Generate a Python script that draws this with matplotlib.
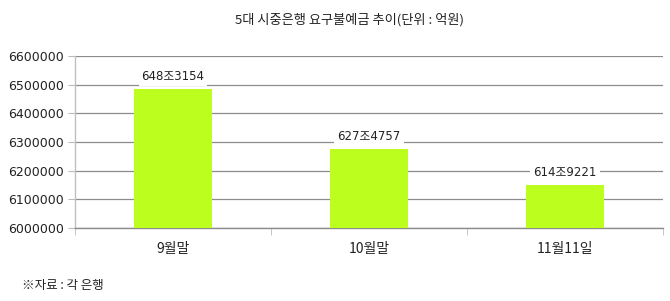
import matplotlib
matplotlib.use("Agg")
import matplotlib.pyplot as plt
from matplotlib.ticker import FixedLocator

plt.rcParams['font.family'] = ['DejaVu Sans', 'Noto Sans CJK KR']

categories = ['9월말', '10월말', '11월11일']
values = [6483154, 6274757, 6149221]
value_labels = ['648조3154', '627조4757', '614조9221']
yticks = [6000000, 6100000, 6200000, 6300000, 6400000, 6500000, 6600000]

fig = plt.figure(figsize=(6.70, 3.01), dpi=100)
ax = fig.add_axes([75/670, 1-228/301, (663-75)/670, (228-56)/301])

x = list(range(len(categories)))
bars = ax.bar(x, values, width=0.4, color='#bcff1f', zorder=3, bottom=0)
ax.set_xlim(-0.5, len(categories) - 0.5)
ax.set_ylim(6000000, 6600000)
ax.set_yticks(yticks)
ax.set_yticklabels([str(v) for v in yticks], fontsize=9, color='#222222')
ax.set_xticks(x)
ax.set_xticklabels(categories, fontsize=10, color='#222222',
                   family=['Noto Sans CJK KR', 'DejaVu Sans'])
ax.xaxis.set_minor_locator(FixedLocator([-0.5, 0.5, 1.5, 2.5]))
ax.tick_params(axis='x', which='major', length=0, pad=10)
ax.tick_params(axis='x', which='minor', length=5, color='#bbbbbb', direction='out')
ax.tick_params(axis='y', length=5, color='#bbbbbb', pad=3)

ax.grid(axis='y', color='#8c8c8c', linewidth=0.9, zorder=0)
ax.set_axisbelow(True)
for s in ['top', 'right']:
    ax.spines[s].set_visible(False)
ax.spines['left'].set_color('#c0c0c0')
ax.spines['left'].set_linewidth(1.0)
ax.spines['bottom'].set_color('#8c8c8c')
ax.spines['bottom'].set_linewidth(1.0)

for xi, v, lab in zip(x, values, value_labels):
    ax.annotate(lab, (xi, v), xytext=(0, 9.5), textcoords='offset points',
                ha='center', va='center', fontsize=8.5, color='#222222',
                family=['DejaVu Sans', 'Noto Sans CJK KR'],
                bbox=dict(boxstyle='square,pad=0.25', fc='white', ec='none'),
                zorder=4)

fig.text(350/670, 1-20/301, '5대 시중은행 요구불예금 추이(단위 : 억원)',
         ha='center', va='center', fontsize=9.5, color='#222222',
         family=['Noto Sans CJK KR', 'DejaVu Sans'])
fig.text(22/670, 1-285/301, '※자료 : 각 은행', ha='left', va='center',
         fontsize=9, color='#222222', family=['Noto Sans CJK KR', 'DejaVu Sans'])

fig.savefig('out.png', dpi=100, facecolor='white')
